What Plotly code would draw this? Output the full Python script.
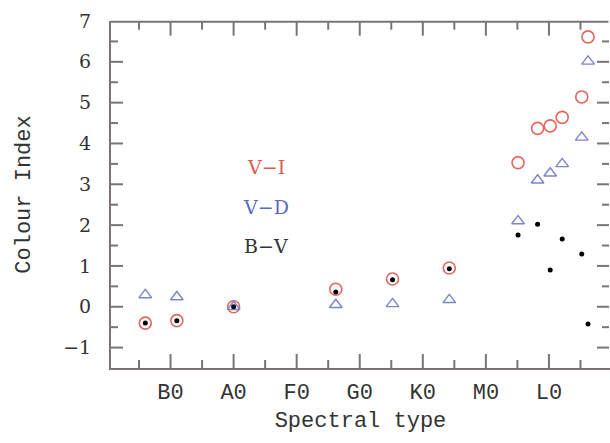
import plotly.graph_objects as go

# Spectral classes on the x axis (B0 = 1 ... L0 = 7)
class_labels = ["B0", "A0", "F0", "G0", "K0", "M0", "L0"]
class_pos = [1, 2, 3, 4, 5, 6, 7]
y_ticks = [-1, 0, 1, 2, 3, 4, 5, 6, 7]

# Spectral type of each star, in class units
spt = [0.60, 1.10, 2.00, 3.62, 4.52, 5.42, 6.51, 6.82, 7.02, 7.21, 7.52, 7.62]

# Colour indices
v_i = [-0.40, -0.34, 0.00, 0.43, 0.68, 0.95, 3.53, 4.37, 4.43, 4.64, 5.14, 6.61]
v_d = [0.29, 0.24, 0.00, 0.05, 0.07, 0.17, 2.10, 3.10, 3.27, 3.50, 4.15, 6.01]
b_v = [-0.40, -0.34, 0.00, 0.36, 0.66, 0.93, 1.76, 2.02, 0.90, 1.66, 1.29, -0.42]

RED = "#e2675f"
BLUE = "#7b84cc"
AXIS = "#7a7474"
CLEAR = "rgba(0,0,0,0)"

W, H = 610, 443
M = dict(l=111, r=0, t=21, b=75)
plot_w = W - M["l"] - M["r"]
plot_h = H - M["t"] - M["b"]

x_range = [0.056, 7.968]
y_range = [-1.5, 7.0]

fig = go.Figure()
fig.add_trace(go.Scatter(
    x=spt, y=v_i, mode="markers", name="V-I", cliponaxis=False,
    marker=dict(symbol="circle-open", size=12, color=RED, line=dict(width=1.6, color=RED)),
))
fig.add_trace(go.Scatter(
    x=spt, y=v_d, mode="markers", name="V-D", cliponaxis=False,
    marker=dict(symbol="triangle-up-open", size=11, color=BLUE, line=dict(width=1.4, color=BLUE)),
))
fig.add_trace(go.Scatter(
    x=spt, y=b_v, mode="markers", name="B-V", cliponaxis=False,
    marker=dict(symbol="circle", size=5, color="black"),
))

# In-plot key
key_text = ["V\u2212I", "V\u2212D", "B\u2212V"]
key_color = ["#dc5a50", "#5a68c4", "#333333"]
key_y = [3.43, 2.45, 1.49]
for t, c, yy in zip(key_text, key_color, key_y):
    fig.add_annotation(x=2.52, y=yy, xref="x", yref="y", text=t, showarrow=False,
                       font=dict(family="DejaVu Serif", size=19, color=c))

# Frame: inward major/minor ticks on all four sides, plus the top line.
# Shapes are placed in paper units so that none depend on axis clipping.
def px_x(v):
    return (v - x_range[0]) / (x_range[1] - x_range[0])


def px_y(v):
    return (v - y_range[0]) / (y_range[1] - y_range[0])


shapes = []
tick_line = dict(color=AXIS, width=2)
shapes.append(dict(type="line", xref="paper", yref="paper", x0=0, x1=0.997, y0=0.998, y1=0.998,
                   line=tick_line, layer="above"))

x_marks = []
for xv in class_pos:
    x_marks += [(xv, 14), (xv - 0.5, 8)]
x_marks.append((class_pos[-1] + 0.5, 8))
for pos, ln in x_marks:
    if x_range[0] < pos < x_range[1]:
        f = ln / plot_h
        xp = px_x(pos)
        shapes.append(dict(type="line", xref="paper", yref="paper", x0=xp, x1=xp,
                           y0=0, y1=f, line=tick_line, layer="above"))
        shapes.append(dict(type="line", xref="paper", yref="paper", x0=xp, x1=xp,
                           y0=0.998, y1=0.998 - f, line=tick_line, layer="above"))

y_marks = []
for yv in y_ticks:
    y_marks += [(yv, 12), (yv + 0.5, 7)]
for pos, ln in y_marks:
    if y_range[0] < pos < y_range[1]:
        f = ln / plot_w
        yp = px_y(pos)
        shapes.append(dict(type="line", xref="paper", yref="paper", x0=0, x1=f,
                           y0=yp, y1=yp, line=tick_line, layer="above"))
        shapes.append(dict(type="line", xref="paper", yref="paper", x0=0.998, x1=0.998 - f,
                           y0=yp, y1=yp, line=tick_line, layer="above"))

fig.update_layout(
    width=W, height=H,
    margin=M,
    paper_bgcolor="white", plot_bgcolor="white",
    showlegend=False,
    shapes=shapes,
    xaxis=dict(
        range=x_range, tickmode="array", tickvals=class_pos, ticktext=class_labels,
        showline=True, linecolor=AXIS, linewidth=2,
        showgrid=False, zeroline=False,
        ticks="outside", ticklen=3, tickcolor=CLEAR,
        tickfont=dict(family="Liberation Mono", size=22, color="#333333"),
        title=dict(text="Spectral type", standoff=6,
                   font=dict(family="Liberation Mono", size=22, color="#333333")),
    ),
    yaxis=dict(
        range=y_range, tickmode="array", tickvals=y_ticks,
        showline=True, linecolor=AXIS, linewidth=2, showgrid=False, zeroline=False,
        ticks="outside", ticklen=14, tickcolor=CLEAR,
        tickfont=dict(family="DejaVu Serif", size=19, color="#333333"),
        title=dict(text="Colour Index", standoff=26,
                   font=dict(family="Liberation Mono", size=22, color="#333333")),
    ),
)

fig.write_html("out.html")
